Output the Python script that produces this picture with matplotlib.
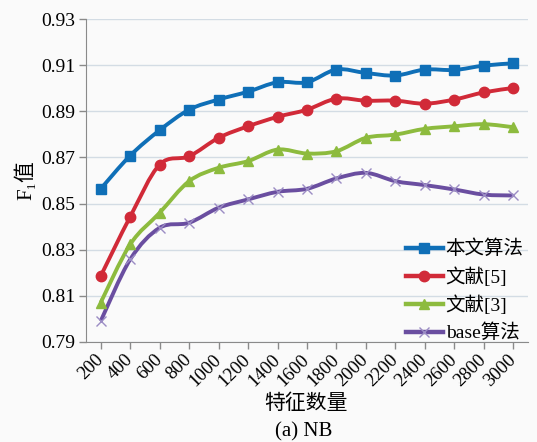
import matplotlib
matplotlib.use('Agg')
import matplotlib.pyplot as plt
import numpy as np
from matplotlib.path import Path
from matplotlib.patches import PathPatch
from matplotlib.lines import Line2D

plt.rcParams['font.family'] = ['Liberation Serif', 'Noto Sans CJK SC', 'DejaVu Serif']

features = [200, 400, 600, 800, 1000, 1200, 1400, 1600, 1800, 2000, 2200, 2400, 2600, 2800, 3000]
ours = [0.8564, 0.8708, 0.8818, 0.8907, 0.8951, 0.8985, 0.9026, 0.9026, 0.9081, 0.9066,
        0.9055, 0.9081, 0.9079, 0.9098, 0.9108]
ref5 = [0.8186, 0.8443, 0.8669, 0.8705, 0.8785, 0.8835, 0.8876, 0.8907, 0.8955, 0.8946,
        0.8946, 0.8933, 0.8951, 0.8982, 0.9001]
ref3 = [0.8071, 0.8323, 0.8460, 0.8597, 0.8655, 0.8684, 0.8734, 0.8717, 0.8727, 0.8785,
        0.8799, 0.8824, 0.8835, 0.8844, 0.8831]
base = [0.7991, 0.8258, 0.8395, 0.8417, 0.8482, 0.8518, 0.8551, 0.8564, 0.8609, 0.8633,
        0.8597, 0.8580, 0.8561, 0.8539, 0.8535]
names = ['本文算法', '文献[5]', '文献[3]', 'base算法']
colors = ['#0f6fb7', '#d12a38', '#8dbb3e', '#6a4ea0']
markers = ['s', 'o', '^', 'x']


def smooth_path(xs, ys):
    # Catmull-Rom style bezier, like Excel's smoothed line
    pts = np.column_stack([xs, ys]).astype(float)
    ext = np.vstack([pts[0], pts, pts[-1]])
    verts = [pts[0]]
    codes = [Path.MOVETO]
    for i in range(len(pts) - 1):
        p0, p1, p2, p3 = ext[i], ext[i + 1], ext[i + 2], ext[i + 3]
        verts += [p1 + (p2 - p0) / 6, p2 - (p3 - p1) / 6, p2]
        codes += [Path.CURVE4] * 3
    return Path(verts, codes)


fig = plt.figure(figsize=(5.37, 4.42), dpi=100, facecolor='#fafafa')
ax = fig.add_axes([86 / 537, 1 - 342 / 442, 442 / 537, 323 / 442])
ax.set_facecolor('#fafafa')

x = np.arange(len(features))
handles = []
for ys, c, m, n in zip([ours, ref5, ref3, base], colors, markers, names):
    ax.add_patch(PathPatch(smooth_path(x, ys), facecolor='none', edgecolor=c, lw=2.8, zorder=3))
    if m == 'x':
        ax.plot(x, ys, ls='none', marker=m, ms=7, mew=1, color='#9b8cc4', zorder=4)
        h = Line2D([], [], color=c, lw=3.2, marker=m, ms=7, mew=1, mec='#9b8cc4')
    else:
        ax.plot(x, ys, ls='none', marker=m, ms=7.5, color=c, zorder=4)
        h = Line2D([], [], color=c, lw=3.2, marker=m, ms=7.5)
    handles.append(h)

ax.set_xlim(-0.5, 14.5)
ax.set_ylim(0.79, 0.93)
ax.set_yticks(np.arange(0.79, 0.9301, 0.02))
ax.set_yticklabels(['%.2f' % v for v in np.arange(0.79, 0.9301, 0.02)], fontsize=14)
ax.set_xticks(x)
ax.set_xticklabels([str(f) for f in features], rotation=45, ha='right', va='center',
                   rotation_mode='anchor', fontsize=13.5)
ax.grid(axis='y', color='#d3dce4', lw=1)
ax.set_axisbelow(True)
for s in ['top', 'right']:
    ax.spines[s].set_visible(False)
for s in ['left', 'bottom']:
    ax.spines[s].set_color('#8a8a8a')
ax.tick_params(axis='both', color='#8a8a8a', length=5, width=1)
ax.tick_params(axis='x', pad=6)
ax.tick_params(axis='y', pad=3)

ax.set_ylabel('F\u2081值', fontsize=15, labelpad=3)
fig.text(306 / 537, 1 - 404 / 442, '特征数量', ha='center', va='center', fontsize=15)
fig.text(304 / 537, 1 - 432 / 442, '(a) NB', ha='center', va='center', fontsize=15)

ax.legend(handles, names, loc='upper left', bbox_to_anchor=(396 / 537, 1 - 230 / 442),
          bbox_transform=fig.transFigure, frameon=False, fontsize=14, borderpad=0,
          handlelength=1.9, handletextpad=0.15, labelspacing=0.45)

fig.savefig('out.png', dpi=100, facecolor=fig.get_facecolor())
